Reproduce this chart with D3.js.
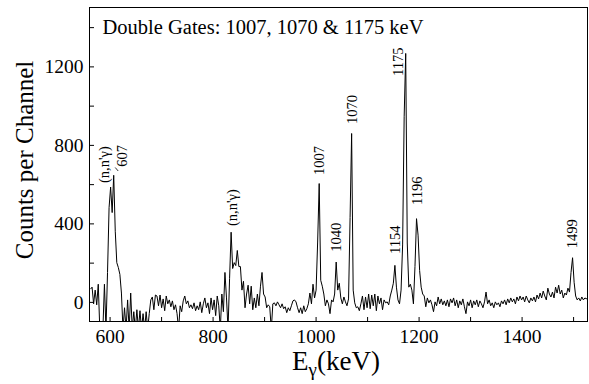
<!DOCTYPE html>
<html lang="en">
<head>
<meta charset="UTF-8">
<title>Double Gates spectrum</title>
<script src="https://cdn.jsdelivr.net/npm/d3@7/dist/d3.min.js"></script>
<style>
  body { margin: 0; background: #fff; }
  svg { display: block; font-family: "Liberation Serif", "Times New Roman", serif; }
</style>
</head>
<body>
<div class="spectrum"></div>
<script>
  // channel calibration of the gated spectrum
  const firstChannelKeV = 563
  const keVPerChannel = 3
  // counts per channel (10 channels per row)
  const counts = [
    65, 75, -10, 60, -15, 90, -140, -140, -140, 90,
    -140, 150, 480, 585, 455, 645, 360, 200, 175, 140,
    45, -140, -30, -140, 10, -140, 45, -140, -50, -140,
    -40, -140, -45, -140, -60, -140, -50, -140, -60, 10,
    25, -40, 35, 30, -20, 35, -30, 15, -45, 30,
    -10, 10, -25, 5, -40, -15, -60, -140, -20, -50,
    5, 30, -10, 5, -30, -15, -35, -5, -45, -20,
    -40, 0, -55, -10, 20, -30, -5, -60, 20, -40,
    10, -70, 30, -20, -140, 40, -50, 150, 20, -140,
    120, 355, 170, 200, 185, 262, 180, 180, 60, 105,
    -30, 40, 85, -10, 80, -40, 20, -30, 40, -20,
    80, 150, 40, 25, -30, -15, -25, -140, -10, -5,
    -20, 0, -15, -30, -10, -35, -25, -55, -30, -45,
    -20, 5, 10, 0, -30, -55, -30, -60, -20, -50,
    -35, -10, 45, -10, 90, 20, 60, 305, 603, 110,
    80, 40, -20, 10, -10, -60, 10, 0, 40, 203,
    60, 95, 20, -10, 25, 0, -20, 15, 430, 858,
    60, -5, -30, -25, -45, -10, 30, -40, 25, -30,
    40, -35, 35, -20, 40, -45, 30, -10, 20, -40,
    10, -5, 0, -15, 30, 60, 95, 186, 75, 10,
    -10, 60, 290, 943, 1266, 300, 75, 90, 60, -10,
    180, 424, 340, 160, 75, 40, 30, -25, 20, -5,
    10, -15, -50, 0, -20, 25, -10, 15, -15, 5,
    -20, 10, -25, 15, -5, 20, -20, 10, -30, 5,
    -15, 15, -25, -60, 0, -20, 10, -30, 5, -15,
    10, -25, 5, -10, -30, 0, 50, -10, 10, -20,
    -5, -30, 0, -15, -5, -25, 5, -10, 10, -15,
    15, -5, 20, 0, 15, -10, 25, 5, 30, 10,
    25, 0, 30, 10, -5, 20, 5, 25, 0, 35,
    15, 45, 20, 55, 30, 10, 70, 40, 25, 50,
    20, 75, 45, 85, 40, 60, 20, 45, 35, 70,
    50, 150, 225, 100, 30, 10, 20, 5, 25, 10,
    20, 15, 25
  ]

  const peakLabels = ["(n,n'\u03b3)", '607', "(n,n'\u03b3)", '1007', '1040', '1070', '1154', '1175', '1196', '1499']
  const peakEnergies = [601, 608, 838, 1007, 1040, 1070, 1154, 1175, 1196, 1499]

  const xTicks = [600, 700, 800, 900, 1000, 1100, 1200, 1300, 1400, 1500]
  const yTicks = [0, 200, 400, 600, 800, 1000, 1200, 1400]
  const title = 'Double Gates: 1007, 1070 & 1175 keV'

  const width = 589
  const height = 384
  const plot = { left: 89.5, right: 587.5, top: 7.5, bottom: 321.5 }

  const x = d3.scaleLinear().domain([561, 1528]).range([plot.left, plot.right])
  const y = d3.scaleLinear().domain([-100, 1500]).range([plot.bottom, plot.top])

  const svg = d3.select('.spectrum')
    .append('svg')
    .attr('width', width)
    .attr('height', height)

  svg.append('defs').append('clipPath')
    .attr('id', 'plot-clip')
    .append('rect')
    .attr('x', plot.left)
    .attr('y', plot.top)
    .attr('width', plot.right - plot.left)
    .attr('height', plot.bottom - plot.top)

  // axes, ticks pointing inward
  function styleAxis(g) {
    g.select('.domain').remove()
    g.attr('font-family', null).attr('font-size', null)
    g.selectAll('line').attr('stroke', '#000')
    g.selectAll('text').attr('fill', '#000').style('font-size', '19.5px')
  }

  svg.append('g')
    .attr('transform', `translate(0,${plot.bottom})`)
    .call(d3.axisBottom(x)
      .tickValues(xTicks)
      .tickSizeInner(-4.5)
      .tickSizeOuter(0)
      .tickPadding(8)
      .tickFormat(d => d % 200 === 0 ? d : ''))
    .call(styleAxis)

  svg.append('g')
    .attr('transform', `translate(${plot.left},0)`)
    .call(d3.axisLeft(y)
      .tickValues(yTicks)
      .tickSizeInner(-4.5)
      .tickSizeOuter(0)
      .tickPadding(6)
      .tickFormat(d => d % 400 === 0 ? d : ''))
    .call(styleAxis)

  // spectrum
  const line = d3.line()
    .x((d, i) => x(firstChannelKeV + i * keVPerChannel))
    .y(d => y(d))

  svg.append('path')
    .datum(counts)
    .attr('clip-path', 'url(#plot-clip)')
    .attr('fill', 'none')
    .attr('stroke', '#000')
    .attr('stroke-width', 1)
    .attr('d', line)

  svg.append('rect')
    .attr('x', plot.left)
    .attr('y', plot.top)
    .attr('width', plot.right - plot.left)
    .attr('height', plot.bottom - plot.top)
    .attr('fill', 'none')
    .attr('stroke', '#000')
    .attr('stroke-width', 1)

  svg.append('text')
    .attr('x', 102.5)
    .attr('y', 34.3)
    .attr('font-size', '20.5px')
    .text(title)

  // axis titles
  svg.append('text')
    .attr('transform', `translate(33,160) rotate(-90)`)
    .attr('text-anchor', 'middle')
    .attr('font-size', '25px')
    .text('Counts per Channel')

  const xTitle = svg.append('text')
    .attr('x', 336)
    .attr('y', 370)
    .attr('text-anchor', 'middle')
    .attr('font-size', '27px')
  xTitle.append('tspan').text('E')
  xTitle.append('tspan').attr('font-size', '19px').attr('dy', 6).text('\u03b3')
  xTitle.append('tspan').attr('dy', -6).text('(keV)')

  // peak labels: horizontal offset from the peak and bottom edge in pixels
  const labelPlace = [[-1, 183], [13.5, 166.7], [5, 226], [4.8, 175], [5.3, 251.7],
    [5.4, 124], [5.6, 254], [-3.2, 76], [5, 205], [4.5, 248.3]]

  svg.selectAll('.peak-label')
    .data(peakLabels)
    .enter()
    .append('text')
    .attr('class', 'peak-label')
    .attr('transform', (d, i) => `translate(${x(peakEnergies[i]) + labelPlace[i][0]},${labelPlace[i][1]}) rotate(-90)`)
    .attr('font-size', '14.5px')
    .text(d => d)

  // leader from the 607 label to its peak
  svg.append('line')
    .attr('x1', x(peakEnergies[1]) + 1.5)
    .attr('y1', 167.5)
    .attr('x2', x(peakEnergies[1]) + 4.5)
    .attr('y2', 171)
    .attr('stroke', '#000')
    .attr('stroke-width', 0.8)
</script>
</body>
</html>
